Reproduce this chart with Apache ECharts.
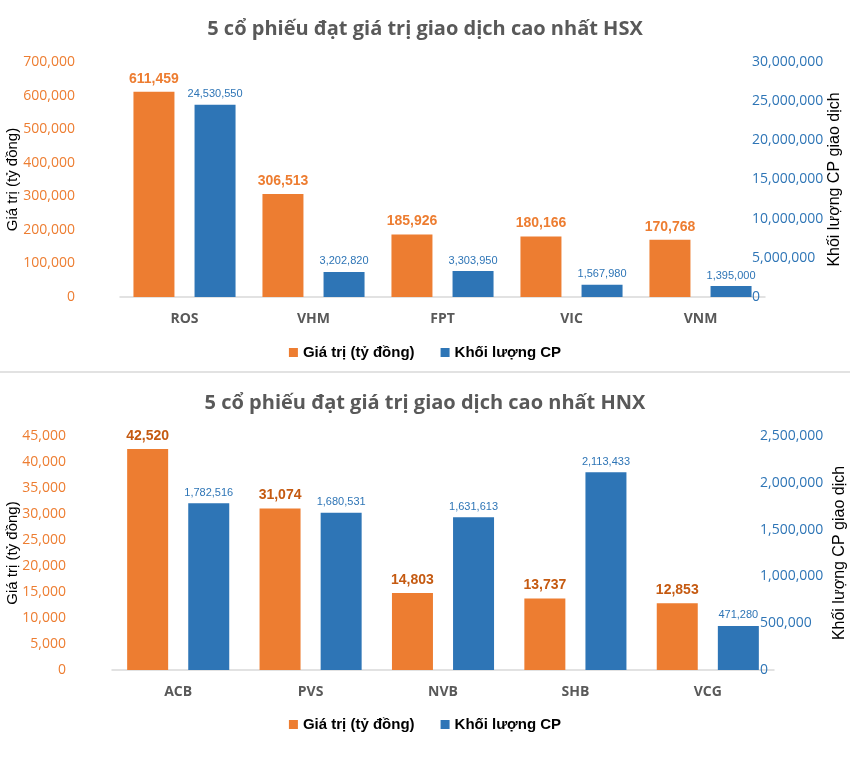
<!DOCTYPE html>
<html>
<head>
<meta charset="utf-8">
<script src="https://cdn.jsdelivr.net/npm/echarts@6/dist/echarts.min.js"></script>
<style>html,body{margin:0;padding:0;background:#fff;}#c{width:850px;height:772px;}</style>
</head>
<body>
<div id="c"></div>
<script>
const titleHSX = '5 cổ phiếu đạt giá trị giao dịch cao nhất HSX';
const titleHNX = '5 cổ phiếu đạt giá trị giao dịch cao nhất HNX';
const seriesNames = ['Giá trị (tỷ đồng)', 'Khối lượng CP'];
const leftAxisName = 'Giá trị (tỷ đồng)';
const rightAxisName = 'Khối lượng CP giao dịch';

const categoriesHSX = ['ROS', 'VHM', 'FPT', 'VIC', 'VNM'];
const valueHSX = [611459, 306513, 185926, 180166, 170768];
const volumeHSX = [24530550, 3202820, 3303950, 1567980, 1395000];

const categoriesHNX = ['ACB', 'PVS', 'NVB', 'SHB', 'VCG'];
const valueHNX = [42520, 31074, 14803, 13737, 12853];
const volumeHNX = [1782516, 1680531, 1631613, 2113433, 471280];

const leftAxisHSX = {min: 0, max: 700000, interval: 100000};
const rightAxisHSX = {min: 0, max: 30000000, interval: 5000000};
const leftAxisHNX = {min: 0, max: 45000, interval: 5000};
const rightAxisHNX = {min: 0, max: 2500000, interval: 500000};

const ORANGE = '#ED7D31', BLUE = '#2E75B6';
const fmt = v => Number(v).toLocaleString('en-US');
const tickFont = '"Open Sans", "DejaVu Sans", sans-serif';
const labelFont = '"Liberation Sans", Arial, sans-serif';

function yAxes(gridIndex, left, right, leftNameGap, leftMargin, rightNameGap, rightMargin) {
  return [
    Object.assign({
      type: 'value', gridIndex: gridIndex, position: 'left',
      name: leftAxisName, nameLocation: 'middle', nameGap: leftNameGap, nameRotate: 90, nameMoveOverlap: false,
      nameTextStyle: {color: '#000', fontSize: 15, fontFamily: labelFont},
      axisLine: {show: false}, axisTick: {show: false}, splitLine: {show: false},
      axisLabel: {color: ORANGE, fontSize: 14, fontFamily: tickFont, margin: leftMargin, formatter: fmt}
    }, left),
    Object.assign({
      type: 'value', gridIndex: gridIndex, position: 'right',
      name: rightAxisName, nameLocation: 'middle', nameGap: rightNameGap, nameRotate: 90, nameMoveOverlap: false,
      nameTextStyle: {color: '#000', fontSize: 16, fontFamily: labelFont},
      axisLine: {show: false}, axisTick: {show: false}, splitLine: {show: false},
      axisLabel: {color: BLUE, fontSize: 14, fontFamily: tickFont, margin: rightMargin, formatter: fmt}
    }, right)
  ];
}

function xAxis(gridIndex, cats) {
  return {
    type: 'category', gridIndex: gridIndex, data: cats,
    axisLine: {lineStyle: {color: '#D9D9D9', width: 1.5}}, axisTick: {show: false},
    axisLabel: {color: '#595959', fontSize: 14, fontWeight: 'bold', fontFamily: tickFont, margin: 15}
  };
}

function bars(xi, yl, yr, vals, vols, valColor) {
  return [
    {
      name: seriesNames[0], type: 'bar', xAxisIndex: xi, yAxisIndex: yl, data: vals,
      barWidth: 41, barGap: '49%', itemStyle: {color: ORANGE},
      label: {show: true, position: 'top', distance: 6, color: valColor, fontSize: 14, fontWeight: 'bold',
        fontFamily: labelFont, formatter: p => fmt(p.value)}
    },
    {
      name: seriesNames[1], type: 'bar', xAxisIndex: xi, yAxisIndex: yr, data: vols,
      barWidth: 41, barGap: '49%', itemStyle: {color: BLUE},
      label: {show: true, position: 'top', distance: 5, color: BLUE, fontSize: 11,
        fontFamily: labelFont, formatter: p => fmt(p.value)}
    }
  ];
}

function legend(top) {
  return {
    top: top, left: 'center', data: seriesNames, icon: 'rect', itemWidth: 9, itemHeight: 9, itemGap: 26,
    textStyle: {color: '#000', fontSize: 15, fontWeight: 'bold', fontFamily: labelFont}
  };
}

const titleStyle = {color: '#595959', fontSize: 20, fontWeight: 'bold', fontFamily: tickFont};

const chart = echarts.init(document.getElementById('c'), null, {renderer: 'canvas'});
chart.setOption({
  animation: false,
  backgroundColor: '#fff',
  title: [
    {text: titleHSX, left: 'center', top: 14, textStyle: titleStyle},
    {text: titleHNX, left: 'center', top: 388, textStyle: titleStyle}
  ],
  legend: [legend(340), legend(712)],
  grid: [
    {left: 120, top: 62, width: 645, height: 235, containLabel: false, outerBoundsMode: 'none'},
    {left: 112, top: 436, width: 662, height: 234, containLabel: false, outerBoundsMode: 'none'}
  ],
  xAxis: [xAxis(0, categoriesHSX), xAxis(1, categoriesHNX)],
  yAxis: [].concat(
    yAxes(0, leftAxisHSX, rightAxisHSX, 100, 45, 62, -13),
    yAxes(1, leftAxisHNX, rightAxisHNX, 92, 46, 58, -14)
  ),
  series: [].concat(
    bars(0, 0, 1, valueHSX, volumeHSX, ORANGE),
    bars(1, 2, 3, valueHNX, volumeHNX, '#C55A11')
  ),
  graphic: [
    {type: 'line', shape: {x1: 0, y1: 372, x2: 850, y2: 372}, style: {stroke: '#D9D9D9', lineWidth: 1.5}}
  ]
});
</script>
</body>
</html>
